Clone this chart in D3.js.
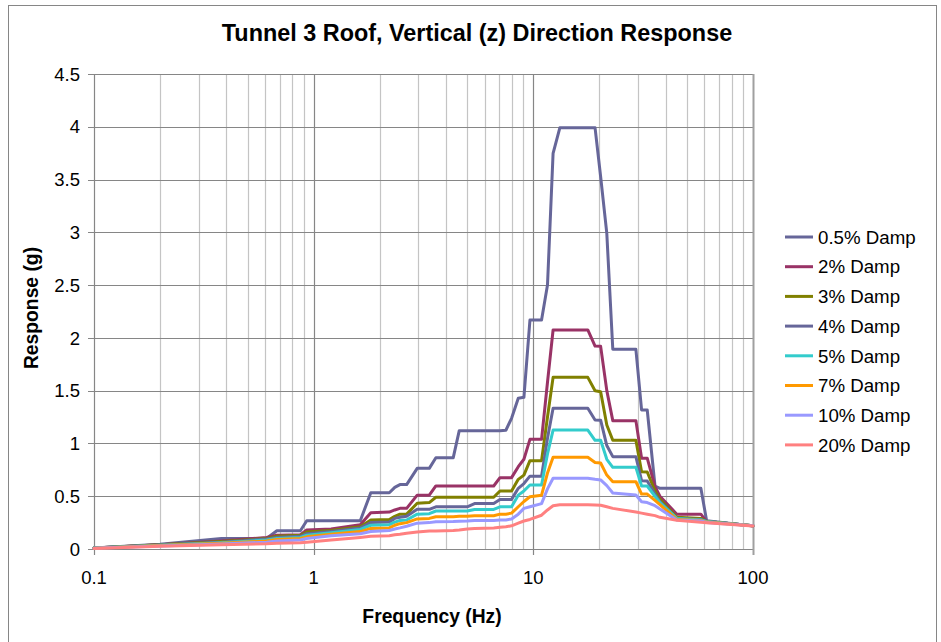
<!DOCTYPE html>
<html><head><meta charset="utf-8">
<script src="https://cdn.jsdelivr.net/npm/d3@7"></script>
<style>
body{margin:0;background:#fff}
svg{display:block}
text{font-family:"Liberation Sans",Arial,sans-serif;fill:#000}
</style>
</head><body>
<svg id="chart" width="941" height="642"></svg>
<script>
// ---------- data ----------
const freqs = [0.1, 0.2, 0.38, 0.61, 0.68, 0.87, 0.93, 1.2, 1.63, 1.82, 2.21, 2.34, 2.47, 2.65, 2.96, 3.36, 3.6, 4.32, 4.6, 5.0, 5.4, 6.6, 7.05, 7.5, 7.96, 8.54, 9.06, 9.65, 10.9, 11.6, 12.3, 13.2, 17.7, 19.1, 20.25, 21.6, 23, 29.3, 31.1, 33, 35.8, 37.7, 45, 57.9, 61.5, 100];

const damp05 = [0.01, 0.045, 0.10, 0.10, 0.173, 0.173, 0.268, 0.268, 0.268, 0.533, 0.533, 0.584, 0.61, 0.61, 0.764, 0.764, 0.865, 0.865, 1.121, 1.121, 1.121, 1.121, 1.121, 1.125, 1.238, 1.428, 1.437, 2.169, 2.169, 2.50, 3.748, 3.99, 3.99, 3.99, 3.527, 2.99, 1.892, 1.892, 1.317, 1.317, 0.597, 0.575, 0.575, 0.575, 0.268, 0.218];
const damp2 = [0.01, 0.04, 0.075, 0.11, 0.13, 0.135, 0.18, 0.19, 0.23, 0.344, 0.35, 0.37, 0.385, 0.385, 0.51, 0.51, 0.597, 0.597, 0.597, 0.597, 0.597, 0.597, 0.676, 0.676, 0.676, 0.78, 0.85, 1.039, 1.039, 1.58, 2.075, 2.075, 2.075, 1.923, 1.92, 1.50, 1.216, 1.216, 0.86, 0.86, 0.59, 0.50, 0.33, 0.33, 0.26, 0.22];
const damp3 = [0.01, 0.04, 0.07, 0.10, 0.12, 0.13, 0.16, 0.175, 0.21, 0.275, 0.28, 0.31, 0.33, 0.33, 0.433, 0.44, 0.49, 0.49, 0.49, 0.49, 0.49, 0.49, 0.55, 0.55, 0.55, 0.66, 0.70, 0.837, 0.837, 1.25, 1.626, 1.626, 1.626, 1.50, 1.49, 1.175, 1.03, 1.03, 0.732, 0.73, 0.55, 0.47, 0.30, 0.29, 0.26, 0.22];
const damp4 = [0.01, 0.038, 0.065, 0.095, 0.11, 0.12, 0.145, 0.165, 0.20, 0.25, 0.255, 0.29, 0.30, 0.31, 0.376, 0.376, 0.40, 0.40, 0.40, 0.40, 0.43, 0.43, 0.47, 0.47, 0.47, 0.575, 0.62, 0.69, 0.69, 1.05, 1.333, 1.333, 1.333, 1.222, 1.22, 0.98, 0.875, 0.875, 0.647, 0.645, 0.52, 0.45, 0.29, 0.28, 0.26, 0.22];
const damp5 = [0.01, 0.035, 0.06, 0.085, 0.10, 0.11, 0.13, 0.155, 0.185, 0.225, 0.23, 0.255, 0.27, 0.275, 0.33, 0.335, 0.36, 0.36, 0.36, 0.36, 0.375, 0.375, 0.40, 0.40, 0.40, 0.51, 0.55, 0.606, 0.606, 0.90, 1.127, 1.127, 1.127, 1.03, 1.03, 0.85, 0.774, 0.774, 0.597, 0.597, 0.50, 0.44, 0.29, 0.275, 0.26, 0.22];
const damp7 = [0.008, 0.032, 0.055, 0.075, 0.09, 0.10, 0.115, 0.14, 0.165, 0.195, 0.20, 0.225, 0.24, 0.25, 0.285, 0.29, 0.306, 0.306, 0.31, 0.31, 0.315, 0.315, 0.33, 0.33, 0.34, 0.40, 0.45, 0.495, 0.51, 0.72, 0.869, 0.869, 0.869, 0.82, 0.815, 0.70, 0.638, 0.638, 0.521, 0.52, 0.46, 0.42, 0.28, 0.27, 0.255, 0.22];
const damp10 = [0.007, 0.028, 0.048, 0.065, 0.075, 0.085, 0.10, 0.125, 0.145, 0.165, 0.175, 0.19, 0.20, 0.215, 0.245, 0.25, 0.259, 0.26, 0.262, 0.265, 0.27, 0.27, 0.275, 0.275, 0.285, 0.33, 0.385, 0.40, 0.43, 0.57, 0.67, 0.67, 0.67, 0.66, 0.654, 0.60, 0.53, 0.512, 0.448, 0.44, 0.41, 0.38, 0.275, 0.265, 0.252, 0.22];
const damp20 = [0.005, 0.025, 0.04, 0.05, 0.055, 0.06, 0.065, 0.085, 0.11, 0.12, 0.125, 0.135, 0.14, 0.15, 0.16, 0.17, 0.17, 0.175, 0.18, 0.19, 0.195, 0.20, 0.205, 0.21, 0.22, 0.245, 0.265, 0.28, 0.32, 0.37, 0.41, 0.42, 0.42, 0.418, 0.415, 0.40, 0.385, 0.35, 0.34, 0.33, 0.316, 0.30, 0.272, 0.253, 0.249, 0.218];

const seriesNames = ["0.5% Damp", "2% Damp", "3% Damp", "4% Damp", "5% Damp", "7% Damp", "10% Damp", "20% Damp"];
const seriesValues = [damp05, damp2, damp3, damp4, damp5, damp7, damp10, damp20];
const seriesColors = ["#666699", "#993366", "#808000", "#666699", "#33CCCC", "#FF9900", "#9999FF", "#FF8080"];

const xTicks = [0.1, 1, 10, 100];
const xTickLabels = ["0.1", "1", "10", "100"];
const yTicks = [0, 0.5, 1, 1.5, 2, 2.5, 3, 3.5, 4, 4.5];
const yTickLabels = ["0", "0.5", "1", "1.5", "2", "2.5", "3", "3.5", "4", "4.5"];

const chartTitle = "Tunnel 3 Roof, Vertical (z) Direction Response";
const xTitle = "Frequency (Hz)";
const yTitle = "Response (g)";

// ---------- layout ----------
const L = 94, R = 753, T = 74, B = 549;
const svg = d3.select("#chart");

const x = d3.scaleLog().domain([0.1, 100]).range([L, R]);
const y = d3.scaleLinear().domain([0, 4.5]).range([B, T]);

// outer chart border
svg.append("rect").attr("x", 8.5).attr("y", 5.5).attr("width", 928).attr("height", 650)
  .attr("fill", "none").attr("stroke", "#868686").attr("stroke-width", 1);

// minor vertical gridlines
const minor = [];
[0.1, 1, 10].forEach(d => { for (let k = 2; k <= 9; k++) minor.push(k * d); });
svg.append("g").selectAll("line").data(minor).join("line")
  .attr("x1", d => Math.round(x(d)) + 0.5).attr("x2", d => Math.round(x(d)) + 0.5)
  .attr("y1", T).attr("y2", B)
  .attr("stroke", "#c4c4c4").attr("stroke-width", 1.2);

// major vertical gridlines
svg.append("g").selectAll("line").data([1, 10]).join("line")
  .attr("x1", d => Math.round(x(d)) + 0.5).attr("x2", d => Math.round(x(d)) + 0.5)
  .attr("y1", T).attr("y2", B + 6)
  .attr("stroke", "#868686").attr("stroke-width", 1.2);

// horizontal gridlines
svg.append("g").selectAll("line").data(yTicks).join("line")
  .attr("x1", L - 6).attr("x2", R)
  .attr("y1", d => Math.round(y(d)) + 0.5).attr("y2", d => Math.round(y(d)) + 0.5)
  .attr("stroke", "#868686").attr("stroke-width", 1.2);

// axes lines
svg.append("line").attr("x1", L + 0.5).attr("x2", L + 0.5).attr("y1", T).attr("y2", B + 6)
  .attr("stroke", "#868686").attr("stroke-width", 1.2);
svg.append("line").attr("x1", R + 0.5).attr("x2", R + 0.5).attr("y1", T).attr("y2", B + 6)
  .attr("stroke", "#a0a0a0").attr("stroke-width", 2);

// y tick labels
svg.append("g").selectAll("text").data(yTicks).join("text")
  .attr("x", 80).attr("y", d => y(d)).attr("dy", "0.36em")
  .attr("text-anchor", "end").attr("font-size", 18.5)
  .text((d, i) => yTickLabels[i]);

// x tick labels
svg.append("g").selectAll("text").data(xTicks).join("text")
  .attr("x", d => x(d)).attr("y", 584)
  .attr("text-anchor", "middle").attr("font-size", 18.5)
  .text((d, i) => xTickLabels[i]);

// series lines
const line = d3.line().x(d => x(d[0])).y(d => y(d[1]));
const gLines = svg.append("g");
seriesValues.forEach((vals, i) => {
  gLines.append("path")
    .attr("d", line(freqs.map((f, j) => [f, vals[j]])))
    .attr("fill", "none").attr("stroke", seriesColors[i])
    .attr("stroke-width", 3).attr("stroke-linejoin", "round").attr("stroke-linecap", "round");
});

// titles
svg.append("text").attr("x", 477).attr("y", 41).attr("text-anchor", "middle")
  .attr("font-size", 23.4).attr("font-weight", "bold").text(chartTitle);
svg.append("text").attr("x", 432).attr("y", 623).attr("text-anchor", "middle")
  .attr("font-size", 19.3).attr("font-weight", "bold").text(xTitle);
svg.append("text").attr("transform", "translate(38,308) rotate(-90)").attr("text-anchor", "middle")
  .attr("font-size", 19.3).attr("font-weight", "bold").text(yTitle);

// legend
const legY0 = 237, legStep = 29.7;
const leg = svg.append("g");
seriesNames.forEach((name, i) => {
  const cy = legY0 + i * legStep;
  leg.append("line").attr("x1", 785).attr("x2", 813).attr("y1", cy).attr("y2", cy)
    .attr("stroke", seriesColors[i]).attr("stroke-width", 3);
  leg.append("text").attr("x", 818).attr("y", cy).attr("dy", "0.36em")
    .attr("font-size", 18.7).text(name);
});
</script>
</body></html>
